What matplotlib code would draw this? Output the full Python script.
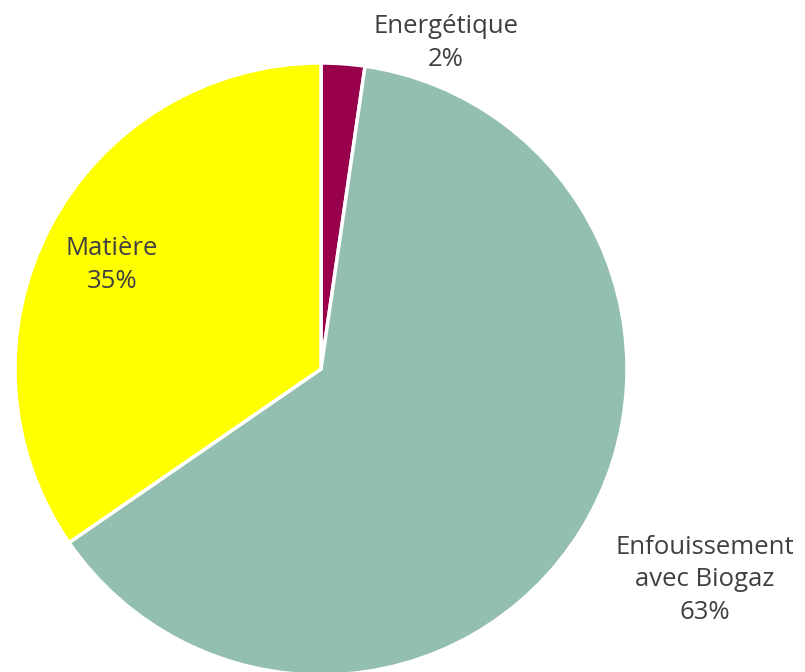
import matplotlib
matplotlib.use("Agg")
import matplotlib.pyplot as plt

labels = ["Energétique", "Enfouissement\navec Biogaz", "Matière"]
shares = [2.3, 63.1, 34.6]
colors = ["#99004C", "#93BFB1", "#FFFF00"]

W, H = 805, 672
fig = plt.figure(figsize=(W / 100, H / 100), dpi=100)
ax = fig.add_axes([0, 0, 1, 1])

# pie centre / radius in pixel units (axes spans the whole figure)
cx, cy, r = 321, H - 369, 306
wedges, _ = ax.pie(shares, colors=colors, startangle=90, counterclock=False,
                   center=(cx, cy), radius=r,
                   wedgeprops=dict(edgecolor="white", linewidth=2.5))
ax.set_xlim(0, W)
ax.set_ylim(0, H)
ax.set_aspect("equal")
ax.axis("off")

txt = dict(ha="center", va="center", fontsize=18.5, color="#404040",
           family="Open Sans", linespacing=1.38)
pos = [(446, H - 43), (705, H - 580), (112, H - 265)]
for lab, v, (x, y) in zip(labels, shares, pos):
    ax.text(x, y, f"{lab}\n{v:.0f}%", **txt)

fig.savefig("out.png", dpi=100)
